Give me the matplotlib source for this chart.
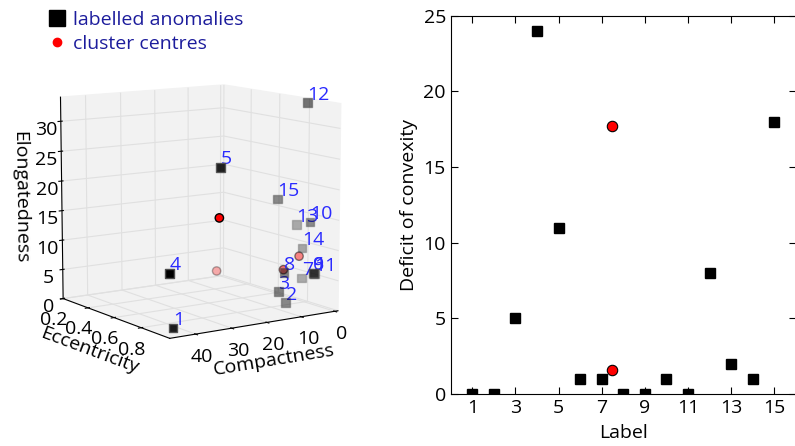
import matplotlib; matplotlib.use('Agg')
import matplotlib.pyplot as plt
import numpy as np
from mpl_toolkits.mplot3d import proj3d

plt.rcParams['font.family'] = ['Open Sans', 'DejaVu Sans']
plt.rcParams['font.size'] = 14

# labelled anomalies, numbered 1..15
labels = list(range(1, 16))
eccentricity = [0.92, 0.84, 0.84, 0.96, 0.92, 0.88, 0.76, 0.84, 0.87, 0.84, 0.86, 0.84, 0.72, 0.76, 0.76]
compactness = [43, 7.4, 9.6, 45.4, 29.9, 1.0, -1.0, 8.0, 0.5, 0.3, -0.2, 1.5, -1.0, -1.0, 6.6]
elongatedness = [0.6, 0.8, 2.9, 9.8, 25.1, 5.6, 3.7, 5.9, 5.4, 13.8, 5.2, 33.6, 12.5, 8.8, 17.6]
deficit = [0, 0, 5, 24, 11, 1, 1, 0, 0, 1, 0, 8, 2, 1, 18]

# cluster centres
centre_ecc = [0.92, 0.52, 0.80, 0.80]
centre_comp = [30.2, 14.4, 1.7, 6.4]
centre_elong = [17.1, 4.4, 7.9, 6.0]
centre_label = [7.5, 7.5]
centre_deficit = [17.7, 1.6]

fig = plt.figure(figsize=(7.95, 4.46), dpi=100)

# --- 3D view of the anomalies ---
ax3 = fig.add_axes([-0.004, 0.152, 0.496, 0.763], projection='3d')
ax3.scatter(compactness, eccentricity, elongatedness, marker='s', s=40,
            c='k', edgecolors='0.3', depthshade=True)
ax3.scatter(centre_comp, centre_ecc, centre_elong, marker='o', s=36,
            c='r', edgecolors='k', depthshade=True)

ax3.set_xlim(-1, 47)
ax3.set_ylim(0.2, 1.0)
ax3.set_zlim(0, 34)
ax3.set_xticks([0, 10, 20, 30, 40])
ax3.set_yticks([0.2, 0.4, 0.6, 0.8])
ax3.set_zticks([0, 5, 10, 15, 20, 25, 30])
ax3.tick_params(pad=-1)
ax3.set_xlabel('Compactness', labelpad=-3)
ax3.set_ylabel('Eccentricity', labelpad=-3)
ax3.set_zlabel('Elongatedness', labelpad=-1)
ax3.view_init(elev=10, azim=56)
ax3.set_box_aspect((4, 4, 4.15))
for axis in (ax3.xaxis, ax3.yaxis, ax3.zaxis):
    axis.set_pane_color((0.95, 0.95, 0.95, 1.0))
    axis._axinfo['grid']['color'] = (0.88, 0.88, 0.88, 1)

# number each anomaly: project the 3D points, then put plain 2D texts there
fig.canvas.draw()
px, py, _ = proj3d.proj_transform(np.array(compactness, float), np.array(eccentricity, float),
                                  np.array(elongatedness, float) + 0.5, ax3.get_proj())
for i, lab in enumerate(labels):
    ax3.text2D(px[i], py[i], str(lab), transform=ax3.transData,
               color='#2a2aff', fontsize=14)

# legend for the whole figure
h1 = plt.Line2D([], [], marker='s', ls='', color='k', markersize=11)
h2 = plt.Line2D([], [], marker='o', ls='', color='r', markersize=6)
fig.legend([h1, h2], ['labelled anomalies', 'cluster centres'], loc='upper left',
           bbox_to_anchor=(0.04, 1.015), frameon=False, handletextpad=0.4,
           labelspacing=0.3, labelcolor='#1c1c9c', handlelength=0.8, fontsize=14)

# --- deficit of convexity per label ---
ax = fig.add_axes([0.567, 0.117, 0.434, 0.8475])
ax.plot(labels, deficit, 's', color='k', markersize=7.5)
ax.plot(centre_label, centre_deficit, 'o', color='r', mec='k', mew=0.8, markersize=7.5)
ax.set_xlim(0, 16)
ax.set_ylim(0, 25)
ax.set_xticks([1, 3, 5, 7, 9, 11, 13, 15])
ax.set_yticks([0, 5, 10, 15, 20, 25])
ax.tick_params(direction='in', top=True, right=True, length=5)
ax.set_xlabel('Label', labelpad=5)
ax.set_ylabel('Deficit of convexity', labelpad=4)

fig.savefig('out.png', dpi=100)
